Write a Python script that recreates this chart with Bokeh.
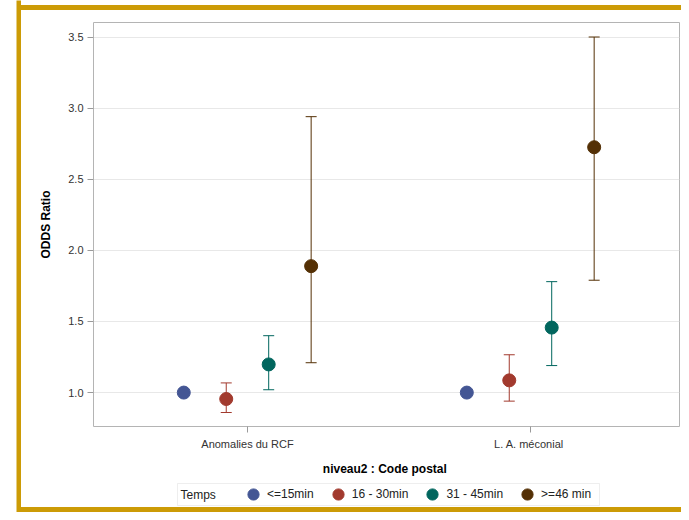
from bokeh.plotting import figure
from bokeh.layouts import column, row
from bokeh.models import (ColumnDataSource, Whisker, TeeHead, FixedTicker, Label, Spacer,
                          PrintfTickFormatter, Legend, LegendItem, Range1d, BoxAnnotation)
from bokeh.transform import dodge
from bokeh.embed import file_html
from bokeh.resources import INLINE

# ---- data ----
categories = ["Anomalies du RCF", "L. A.  méconial"]
cat_pos = [1, 2]
legend_title = "Temps"
series = ["<=15min", "16 - 30min", "31 - 45min", ">=46 min"]
colors = ["#445694", "#A23A2E", "#01665E", "#543005"]
offsets = [-0.225, -0.075, 0.075, 0.225]

odds_15 = [1.0, 1.0]
low_15 = [1.0, 1.0]
up_15 = [1.0, 1.0]

odds_30 = [0.955, 1.086]
low_30 = [0.86, 0.94]
up_30 = [1.068, 1.266]

odds_45 = [1.198, 1.457]
low_45 = [1.02, 1.19]
up_45 = [1.40, 1.78]

odds_46 = [1.889, 2.725]
low_46 = [1.21, 1.79]
up_46 = [2.94, 3.50]

y_ticks = [1.0, 1.5, 2.0, 2.5, 3.0, 3.5]

all_odds = [odds_15, odds_30, odds_45, odds_46]
all_low = [low_15, low_30, low_45, low_46]
all_up = [up_15, up_30, up_45, up_46]

FONT = "Liberation Sans"
GOLD = "#CC9B06"


def no_align(f):
    try:
        f.frame_align = False
    except Exception:
        pass


def block(w, h, color):
    b = figure(width=w, height=h, output_backend="svg", toolbar_location=None,
               x_axis_location=None, y_axis_location=None,
               x_range=Range1d(0, 1), y_range=Range1d(0, 1),
               min_border=0, min_border_left=0, min_border_right=0,
               min_border_top=0, min_border_bottom=0)
    b.grid.visible = False
    b.outline_line_color = None
    b.background_fill_color = color
    b.border_fill_color = color
    no_align(b)
    return b


def band(w, h, color):
    return Spacer(width=w, height=h,
                  styles={"background-color": color, "background": color})


# ---- main chart ----
p1 = figure(width=660, height=468, output_backend="svg", toolbar_location=None,
            x_range=Range1d(0.456, 2.5265), y_range=Range1d(0.7616, 3.602),
            min_border_left=72, min_border_right=2, min_border_top=12, min_border_bottom=51)

p1.background_fill_color = "white"
p1.border_fill_color = "white"
p1.outline_line_color = "#b4b4b4"
p1.outline_line_width = 1

p1.xgrid.visible = False
p1.ygrid.grid_line_color = "#e8e8e8"
p1.ygrid.ticker = FixedTicker(ticks=y_ticks)

p1.yaxis.ticker = FixedTicker(ticks=y_ticks)
p1.yaxis.formatter = PrintfTickFormatter(format="%.1f")
p1.yaxis.axis_label = "ODDS Ratio"
p1.xaxis.ticker = FixedTicker(ticks=cat_pos)
p1.xaxis.major_label_overrides = {pos: lab for pos, lab in zip(cat_pos, categories)}
p1.xaxis.axis_label = "niveau2 :  Code postal"

for ax in (p1.xaxis[0], p1.yaxis[0]):
    ax.axis_line_color = None
    ax.major_tick_line_color = "#9a9a9a"
    ax.major_tick_in = 0
    ax.major_tick_out = 6
    ax.minor_tick_line_color = None
    ax.major_label_text_font = FONT
    ax.major_label_text_font_size = "11px"
    ax.major_label_text_color = "#333333"
    ax.axis_label_text_font = FONT
    ax.axis_label_text_font_size = "12px"
    ax.axis_label_text_font_style = "bold"
    ax.axis_label_text_color = "#000000"
p1.xaxis.major_label_standoff = 5
p1.xaxis.axis_label_standoff = 9
p1.yaxis.major_label_standoff = 4
p1.yaxis.axis_label_standoff = 12

for i, name in enumerate(series):
    src = ColumnDataSource(dict(x=cat_pos, y=all_odds[i], lower=all_low[i], upper=all_up[i]))
    c = colors[i]
    if i > 0:
        w = Whisker(source=src, base=dodge("x", offsets[i]), lower="lower", upper="upper",
                    dimension="height", line_color=c, line_width=1,
                    upper_head=TeeHead(size=11, line_color=c, line_width=1),
                    lower_head=TeeHead(size=11, line_color=c, line_width=1))
        p1.add_layout(w)
    p1.scatter(x=dodge("x", offsets[i]), y="y", source=src, size=13,
               fill_color=c, line_color=c, line_width=1)

# ---- legend strip: same frame as the chart, ranges in picture pixels ----
p2 = figure(width=660, height=29, output_backend="svg", toolbar_location=None,
            x_axis_location=None, y_axis_location=None,
            x_range=Range1d(93, 679), y_range=Range1d(507, 478),
            min_border_left=72, min_border_right=2, min_border_top=0, min_border_bottom=0)
p2.grid.visible = False
p2.outline_line_color = None
p2.background_fill_color = "white"
p2.border_fill_color = "white"

p2.add_layout(BoxAnnotation(left=177, right=599, bottom=505, top=483, fill_color="white",
                            fill_alpha=1, line_color="#c8c8c8", line_width=1, level="underlay"))
p2.add_layout(Label(x=180, y=494, text=legend_title, text_baseline="middle",
                    text_font=FONT, text_font_size="12px", text_color="#222222"))

items = []
for i, name in enumerate(series):
    # legend-only renderer, kept outside the strip's visible range
    r = p2.scatter(x=[0], y=[0], size=13, fill_color=colors[i], line_color=colors[i])
    items.append(LegendItem(label=name, renderers=[r]))

legend = Legend(items=items, orientation="horizontal", location=(146, -1),
                label_text_font=FONT, label_text_font_size="12px", label_text_color="#222222",
                glyph_width=28, glyph_height=28, label_height=16, label_standoff=0,
                spacing=10, padding=0, margin=0,
                border_line_color=None, background_fill_alpha=0)
p2.add_layout(legend)

right_col = column(band(660, 5, "white"), band(660, 5, GOLD), p1, p2, band(660, 5, GOLD),
                   spacing=0)
layout = row(band(16, 512, "white"), block(5, 512, GOLD), right_col, spacing=0)

open("out.html", "w").write(file_html(layout, INLINE))
